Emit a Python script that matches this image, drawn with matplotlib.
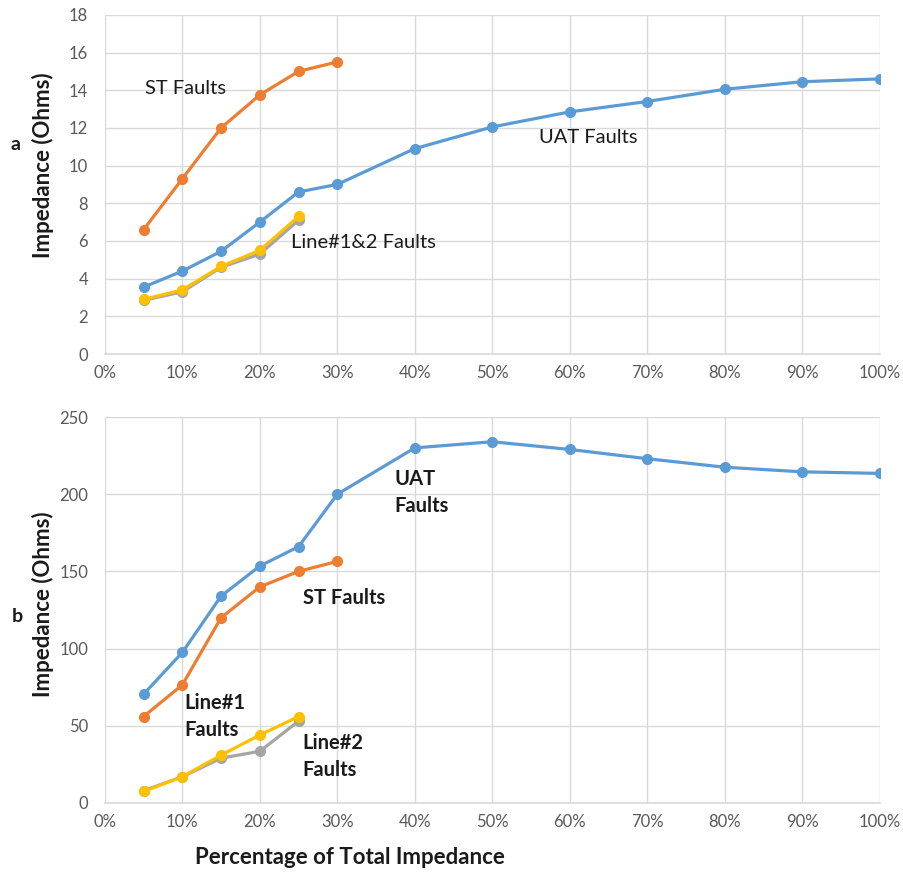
import matplotlib
matplotlib.use("Agg")
import matplotlib.pyplot as plt
from matplotlib.ticker import PercentFormatter

plt.rcParams['font.family'] = ['Lato', 'DejaVu Sans']

# x positions (fraction of total impedance)
x_all = [0.05, 0.10, 0.15, 0.20, 0.25, 0.30, 0.40, 0.50, 0.60, 0.70, 0.80, 0.90, 1.00]
x_st = [0.05, 0.10, 0.15, 0.20, 0.25, 0.30]
x_line = [0.05, 0.10, 0.15, 0.20, 0.25]

# Panel a
a_uat = [3.55, 4.4, 5.45, 7.0, 8.6, 9.0, 10.9, 12.05, 12.85, 13.4, 14.05, 14.45, 14.6]
a_st = [6.6, 9.3, 12.0, 13.75, 15.0, 15.5]
a_line1 = [2.85, 3.3, 4.6, 5.3, 7.1]
a_line2 = [2.9, 3.4, 4.65, 5.5, 7.3]

# Panel b
b_uat = [70.5, 97.5, 134, 153.5, 166, 200, 230, 234, 229, 223, 217.5, 214.5, 213.5]
b_st = [56, 76.5, 120, 140, 150, 156.5]
b_line2 = [8, 17, 29, 33.5, 53]
b_line1 = [7.5, 17, 31, 44, 56]

C_BLUE = '#5B9BD5'
C_ORANGE = '#ED7D31'
C_GRAY = '#A5A5A5'
C_YELLOW = '#FFC000'
C_TEXT = '#1a1a1a'

W, H = 904, 873
fig = plt.figure(figsize=(9.04, 8.73), dpi=100)
ax1 = fig.add_axes([0.116, 0.5945, 0.857, 0.3885])
ax2 = fig.add_axes([0.116, 0.0802, 0.857, 0.4421])

lkw = dict(marker='o', markersize=7, linewidth=2.3)


def style(ax, ymax, ystep):
    ax.set_xlim(0, 1.0)
    ax.set_ylim(0, ymax)
    ax.set_xticks([i / 10 for i in range(11)])
    ax.set_yticks(list(range(0, ymax + 1, ystep)))
    ax.xaxis.set_major_formatter(PercentFormatter(1.0, decimals=0))
    ax.grid(True, color='#D9D9D9', linewidth=1.0)
    ax.set_axisbelow(True)
    for s in ['top', 'right', 'left']:
        ax.spines[s].set_visible(False)
    ax.spines['bottom'].set_color('#D9D9D9')
    ax.spines['bottom'].set_linewidth(1.2)
    ax.tick_params(axis='both', length=0, labelsize=12, labelcolor='#595959')
    ax.tick_params(axis='y', pad=12)
    ax.tick_params(axis='x', pad=8)


ax1.plot(x_all, a_uat, color=C_BLUE, **lkw)
ax1.plot(x_st, a_st, color=C_ORANGE, **lkw)
ax1.plot(x_line, a_line1, color=C_GRAY, **lkw)
ax1.plot(x_line, a_line2, color=C_YELLOW, **lkw)
style(ax1, 18, 2)

tkw = dict(fontsize=14.5, color=C_TEXT, va='center')
ax1.text(0.0516, 14.1, 'ST Faults', **tkw)
ax1.text(0.561, 11.5, 'UAT Faults', **tkw)
ax1.text(0.24, 5.9, 'Line#1&2 Faults', **tkw)

ax2.plot(x_all, b_uat, color=C_BLUE, **lkw)
ax2.plot(x_st, b_st, color=C_ORANGE, **lkw)
ax2.plot(x_line, b_line2, color=C_GRAY, **lkw)
ax2.plot(x_line, b_line1, color=C_YELLOW, **lkw)
style(ax2, 250, 50)

bkw = dict(fontsize=14.5, fontweight='bold', color=C_TEXT, va='center', linespacing=1.45)
ax2.text(0.374, 201, 'UAT\nFaults', **bkw)
ax2.text(0.2555, 133, 'ST Faults', **bkw)
ax2.text(0.103, 56, 'Line#1\nFaults', **bkw)
ax2.text(0.2555, 30, 'Line#2\nFaults', **bkw)

lab = dict(fontsize=16, fontweight='bold', color=C_TEXT, ha='center', va='center')
fig.text(43 / W, 1 - 165 / H, 'Impedance (Ohms)', rotation=90, **lab)
fig.text(43 / W, 1 - 604 / H, 'Impedance (Ohms)', rotation=90, **lab)
fig.text(350 / W, 1 - 857 / H, 'Percentage of Total Impedance', **lab)

fig.text(16 / W, 1 - 145 / H, 'a', fontsize=14, fontweight='bold', color=C_TEXT, ha='center', va='center')
fig.text(17 / W, 1 - 617 / H, 'b', fontsize=14, fontweight='bold', color=C_TEXT, ha='center', va='center')

fig.savefig('out.png', dpi=100)
